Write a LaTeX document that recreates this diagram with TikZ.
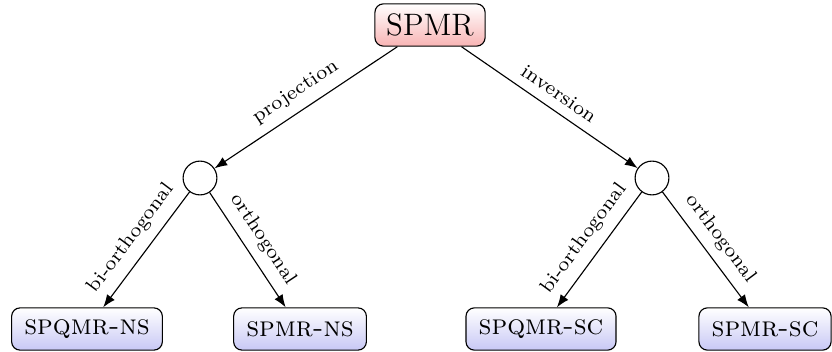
\documentclass[tikz,border=0pt]{standalone}
\usepackage{xcolor}
\usepackage{tikz}
\usetikzlibrary{shapes,arrows,arrows.meta,positioning,calc}
\definecolor{rootbot}{RGB}{248, 180, 180}
\definecolor{leafbot}{RGB}{200, 200, 245}

\begin{document}
\begin{tikzpicture}[x=0.355pt, y=-0.355pt, >={Latex[length=4.5pt,width=3.4pt]},
    rootbox/.style={draw, rounded corners=3pt, top color=white, bottom color=rootbot, minimum height=15pt, inner xsep=4pt, font=\fontsize{11}{13}\selectfont},
    leafbox/.style={draw, rounded corners=3pt, top color=white, bottom color=leafbot, minimum height=15pt, inner xsep=4.5pt, font=\scshape},
    split/.style={draw, circle, minimum size=12pt, inner sep=0pt},
    lbl/.style={midway, above, sloped, font=\scriptsize}]
    \useasboundingbox (0,0) rectangle (832,352);
    \node[rootbox] (spmr) at (430, 25) {SPMR};
    \node[split] (proj) at (200, 178) {};
    \node[split] (inv) at (652, 178) {};
    \node[leafbox] (spqmrns) at (87, 329) {spqmr-ns};
    \node[leafbox] (spmrns) at (300, 329) {spmr-ns};
    \node[leafbox] (spqmrsc) at (541, 329) {spqmr-sc};
    \node[leafbox] (spmrsc) at (765, 329) {spmr-sc};
    \draw[->] (spmr) -- (proj) node[lbl] {projection};
    \draw[->] (spmr) -- (inv) node[lbl] {inversion};
    \draw[->] (proj) -- (spqmrns) node[lbl] {bi-orthogonal};
    \draw[->] (proj) -- (spmrns) node[lbl] {orthogonal};
    \draw[->] (inv) -- (spqmrsc) node[lbl] {bi-orthogonal};
    \draw[->] (inv) -- (spmrsc) node[lbl] {orthogonal};
\end{tikzpicture}
\end{document}
